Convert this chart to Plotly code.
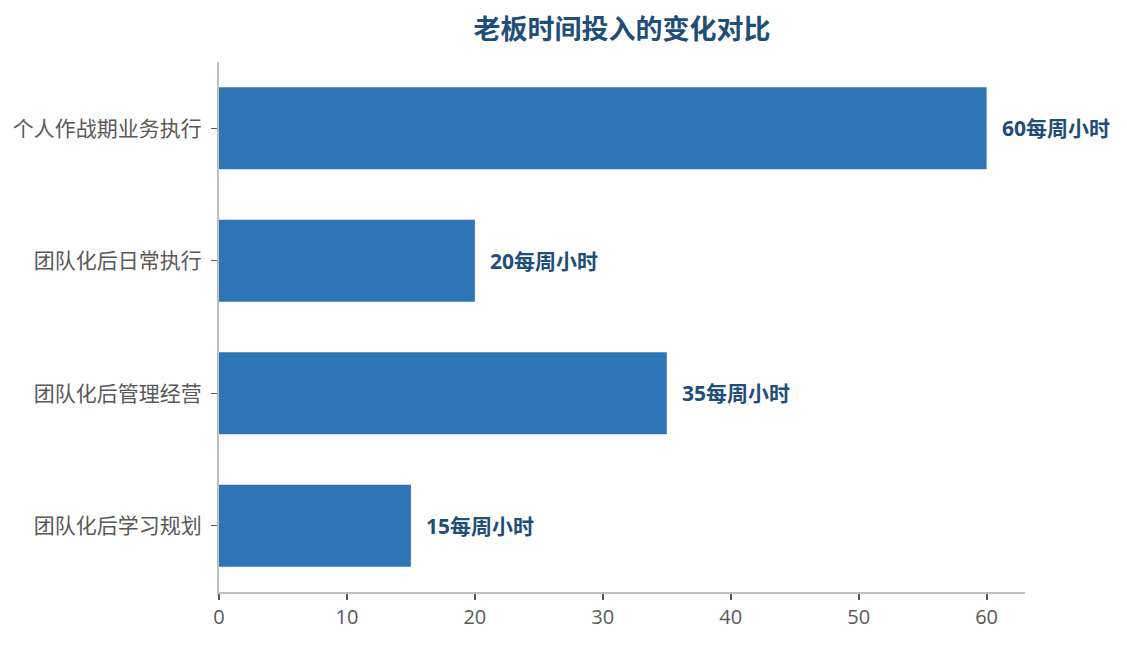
import plotly.graph_objects as go

# ── Data ──────────────────────────────────────────────────────────────────────
categories = ["个人作战期业务执行", "团队化后日常执行", "团队化后管理经营", "团队化后学习规划"]
hours = [60, 20, 35, 15]
unit = "每周小时"

TITLE = "老板时间投入的变化对比"
BAR_COLOR = "#2E75B6"
LABEL_COLOR = "#1F4E79"
FONT = "Open Sans, Noto Sans CJK SC, sans-serif"

fig = go.Figure()

fig.add_trace(go.Bar(
    x=hours,
    y=categories,
    orientation="h",
    width=0.62,
    marker=dict(color=BAR_COLOR, line=dict(width=0)),
    showlegend=False,
    hoverinfo="x+y",
))

# value labels just right of each bar
for cat, val in zip(categories, hours):
    fig.add_annotation(
        x=val, y=cat,
        text=f"<b>{val}{unit}</b>",
        showarrow=False,
        xanchor="left", xshift=13,
        font=dict(family=FONT, size=21, color=LABEL_COLOR),
    )

fig.update_layout(
    width=1127, height=645,
    paper_bgcolor="white",
    plot_bgcolor="white",
    margin=dict(l=211, r=110, t=54, b=61),
    title=dict(
        text=f"<b>{TITLE}</b>",
        x=0.5, xref="paper", xanchor="center",
        y=0.966, yanchor="middle",
        font=dict(family=FONT, size=27, color=LABEL_COLOR),
    ),
    xaxis=dict(
        range=[0, 63],
        dtick=10,
        automargin=False,
        showgrid=False,
        zeroline=False,
        showline=True, linecolor="#BFBFBF", linewidth=2,
        ticks="outside", ticklen=6, tickwidth=2, tickcolor="#595959",
        tickfont=dict(family=FONT, size=20, color="#595959"),
    ),
    yaxis=dict(
        categoryorder="array",
        categoryarray=categories[::-1],
        automargin=False,
        showgrid=False,
        zeroline=False,
        showline=True, linecolor="#BFBFBF", linewidth=2,
        ticks="outside", ticklen=6, tickwidth=1, tickcolor="#595959",
        ticklabelstandoff=5,
        tickfont=dict(family=FONT, size=21, color="#595959"),
    ),
)

fig.write_html("out.html")
